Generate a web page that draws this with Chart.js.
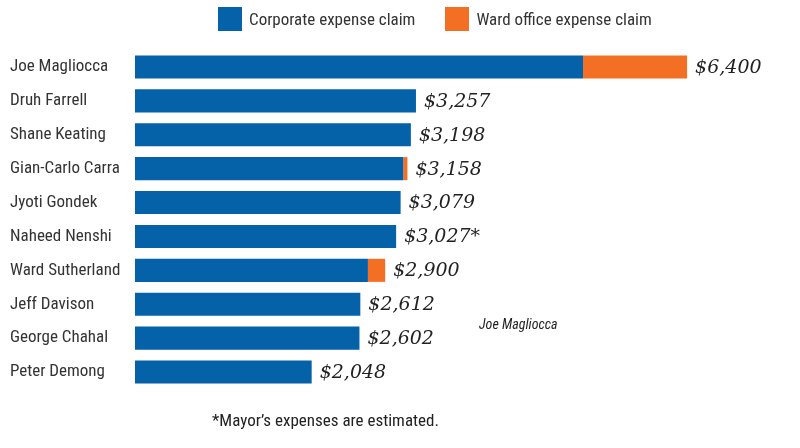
<!DOCTYPE html>
<html>
<head>
<meta charset="utf-8">
<script src="https://cdn.jsdelivr.net/npm/chart.js@4"></script>
<style>
  html, body { margin: 0; padding: 0; background: #fff; }
  #wrap { position: relative; width: 800px; height: 448px; overflow: hidden; }
  #chart { position: absolute; left: 0; top: 0; }
  .narrow { font-family: 'Liberation Sans Narrow', 'Roboto Condensed', 'DejaVu Sans Condensed', sans-serif; color: #333; }
  #legend { position: absolute; top: 7px; left: 218px; display: flex; align-items: center; font-size: 17px; }
  #legend span.box { display: inline-block; width: 24px; height: 24px; margin-right: 7px; }
  #legend .item { display: flex; align-items: center; margin-right: 30px; }
  #caption { position: absolute; left: 479px; top: 316px; font-size: 14px; font-style: italic; color: #222; }
  #note { position: absolute; left: 212px; top: 410px; font-size: 17px; color: #222; }
</style>
</head>
<body>
<div id="wrap">
  <canvas id="chart" width="800" height="448"></canvas>
  <div id="legend" class="narrow"></div>
  <div id="caption" class="narrow">Joe Magliocca</div>
  <div id="note" class="narrow">*Mayor’s expenses are estimated.</div>
</div>
<script>
// Councillors, top to bottom
const councillors = [
  "Joe Magliocca", "Druh Farrell", "Shane Keating", "Gian-Carlo Carra", "Jyoti Gondek",
  "Naheed Nenshi", "Ward Sutherland", "Jeff Davison", "George Chahal", "Peter Demong"
]

// Expense claims in dollars
const corporateClaims = [5194, 3257, 3198, 3110, 3079, 3027, 2700, 2612, 2602, 2048]
const wardOfficeClaims = [1206, 0, 0, 48, 0, 0, 200, 0, 0, 0]

// Printed totals at the end of each bar
const totalLabels = ["$6,400", "$3,257", "$3,198", "$3,158", "$3,079", "$3,027*", "$2,900", "$2,612", "$2,602", "$2,048"]

const seriesNames = ["Corporate expense claim", "Ward office expense claim"]
const seriesColors = ["#0561a8", "#f36f23"]

// Build the HTML legend
const legendEl = document.getElementById("legend")
seriesNames.forEach((name, i) => {
  const item = document.createElement("div")
  item.className = "item"
  item.innerHTML = `<span class="box" style="background:${seriesColors[i]}"></span>${name}`
  legendEl.appendChild(item)
})

// Draw the total label after the end of each stacked bar
const totalsPlugin = {
  id: "totals",
  afterDatasetsDraw(chart) {
    const ctx = chart.ctx
    const x = chart.scales.x
    const y = chart.scales.y
    ctx.save()
    ctx.font = "italic 19px 'DejaVu Serif', serif"
    ctx.fillStyle = "#222"
    ctx.textBaseline = "middle"
    councillors.forEach((_, i) => {
      const total = corporateClaims[i] + wardOfficeClaims[i]
      ctx.fillText(totalLabels[i], x.getPixelForValue(total) + 8, y.getPixelForValue(i) + 1)
    })
    ctx.restore()
  }
}

new Chart(document.getElementById("chart"), {
  type: "bar",
  data: {
    labels: councillors,
    datasets: seriesNames.map((name, i) => ({
      label: name,
      data: i === 0 ? corporateClaims : wardOfficeClaims,
      backgroundColor: seriesColors[i],
      borderWidth: 0,
      barPercentage: 0.68,
      categoryPercentage: 1,
    })),
  },
  options: {
    indexAxis: "y",
    responsive: false,
    animation: false,
    layout: { padding: { top: 50, bottom: 59, right: 18, left: 10 } },
    plugins: {
      legend: { display: false },
      tooltip: { enabled: false },
    },
    scales: {
      x: {
        stacked: true,
        min: 0,
        max: 7500,
        display: false,
      },
      y: {
        stacked: true,
        grid: { display: false },
        border: { display: false },
        ticks: {
          color: "#333",
          crossAlign: "far",
          padding: 0,
          font: { family: "'Liberation Sans Narrow', 'Roboto Condensed', 'DejaVu Sans Condensed', sans-serif", size: 17 },
        },
        afterFit(scale) {
          scale.width = 125
        },
      },
    },
  },
  plugins: [totalsPlugin],
})
</script>
</body>
</html>
